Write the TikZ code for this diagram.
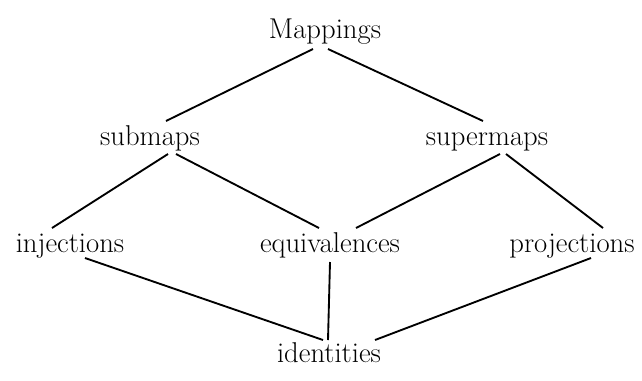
\documentclass[tikz,border=0pt]{standalone}
\begin{document}
\begin{tikzpicture}[x=0.75pt,y=-0.75pt,
  lbl/.style={font=\fontsize{21.5}{26}\selectfont, inner sep=0pt, anchor=base},
  edge/.style={line width=1.4pt}]
\useasboundingbox (0,0) rectangle (642,380);
\node[lbl] (map) at (325,38) {Mappings};
\node[lbl] (sub) at (150,145) {submaps};
\node[lbl] (sup) at (487,145) {supermaps};
\node[lbl] (inj) at (70,252) {injections};
\node[lbl] (equ) at (330,252) {equivalences};
\node[lbl] (pro) at (572,252) {projections};
\node[lbl] (ide) at (329,362) {identities};
\draw[edge] ([shift={(-12,11)}]map.base) -- ([shift={(16,-24)}]sub.base);
\draw[edge] ([shift={(3,11)}]map.base) -- ([shift={(-4,-24)}]sup.base);
\draw[edge] ([shift={(18,9)}]sub.base) -- ([shift={(-18,-24)}]inj.base);
\draw[edge] ([shift={(26,9)}]sub.base) -- ([shift={(-11,-24)}]equ.base);
\draw[edge] ([shift={(13,9)}]sup.base) -- ([shift={(26,-24)}]equ.base);
\draw[edge] ([shift={(19,9)}]sup.base) -- ([shift={(31,-24)}]pro.base);
\draw[edge] ([shift={(15,6)}]inj.base) -- ([shift={(-6,-22)}]ide.base);
\draw[edge] ([shift={(0,10)}]equ.base) -- ([shift={(-1,-22)}]ide.base);
\draw[edge] ([shift={(19,6)}]pro.base) -- ([shift={(46,-22)}]ide.base);
\end{tikzpicture}
\end{document}
